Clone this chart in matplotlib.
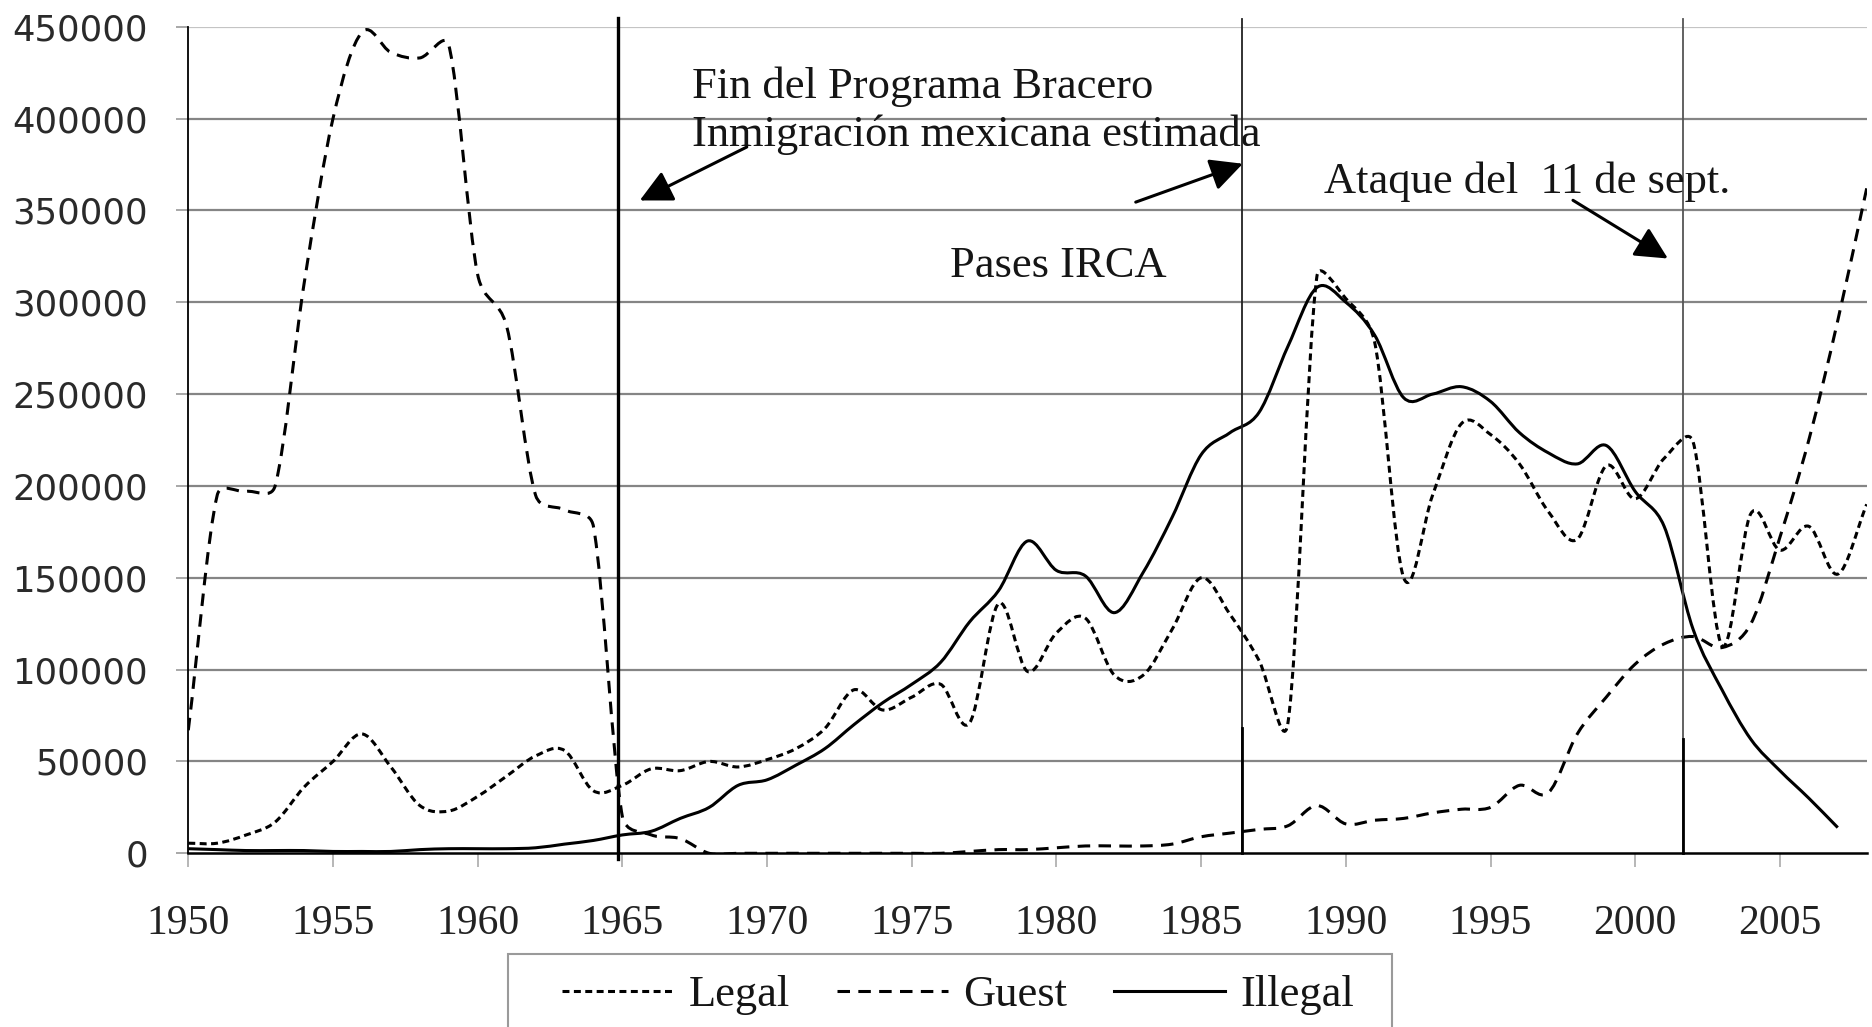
import numpy as np
import matplotlib
matplotlib.use("Agg")
import matplotlib.pyplot as plt
from matplotlib.path import Path
from matplotlib.patches import PathPatch, Rectangle
from matplotlib.lines import Line2D

plt.rcParams['lines.scale_dashes'] = False

# ---------------- data ----------------
years = list(range(1950, 2009))
legal = [5500, 5500, 10000, 17000, 36000, 50000, 65000, 47000, 26000, 23000,
         31000, 42000, 53000, 56000, 34000, 37000, 46000, 45000, 50000, 47000,
         51000, 57000, 68000, 89000, 78000, 85000, 92000, 71000, 136000, 99000,
         120000, 128000, 97000, 97000, 122000, 150000, 130000, 105000, 71000, 314000,
         302000, 278000, 150000, 195000, 234000, 228000, 212000, 186000, 171000, 211000,
         193000, 215000, 224000, 113000, 185000, 165000, 178000, 152000, 190000]
guest = [67000, 195000, 197000, 200000, 310000, 400000, 447000, 436000, 433000, 440000,
         315000, 287000, 195000, 187000, 178000, 20000, 10000, 8000, 0, 0,
         0, 0, 0, 0, 0, 0, 0, 1000, 2000, 2000,
         3000, 4000, 4000, 4000, 5000, 9000, 11000, 13000, 15000, 26000,
         16000, 18000, 19000, 22000, 24000, 25000, 37000, 33000, 65000, 85000,
         103000, 114000, 118000, 112000, 125000, 172000, 225000, 290000, 362000]
years_illegal = list(range(1950, 2008))
illegal = [2500, 2000, 1500, 1500, 1500, 1000, 1000, 1000, 2000, 2500,
           2500, 2500, 3000, 5000, 7000, 10000, 12000, 19000, 25000, 37000,
           40000, 48000, 57000, 70000, 82000, 92000, 104000, 126000, 143000, 170000,
           154000, 151000, 131000, 153000, 183000, 217000, 229000, 240000, 276000, 308000,
           300000, 282000, 248000, 250000, 254000, 246000, 229000, 218000, 212000, 222000,
           197000, 178000, 122000, 89000, 62000, 45000, 30000, 14000]

series_names = ["Legal", "Guest", "Illegal"]
y_ticks = list(range(0, 450001, 50000))
x_ticks = list(range(1950, 2006, 5))

event_years = [1964.85, 1986.4, 2001.65]
annotations = ["Fin del Programa Bracero", "Inmigración mexicana estimada",
               "Pases IRCA", "Ataque del  11 de sept."]


# ---------------- helpers ----------------
def smooth_path(ax, x, y):
    """Spreadsheet-style smoothed line: cubic Bezier segments whose control
    handles are limited relative to the segment length (in screen space)."""
    pts = np.column_stack([x, y]).astype(float)
    scr = ax.transData.transform(pts)
    n = len(pts)
    verts = [pts[0]]
    codes = [Path.MOVETO]
    for i in range(n - 1):
        i0 = i - 1 if i > 0 else i
        i3 = i + 2 if i + 2 < n else i + 1
        p0, p1, p2, p3 = pts[i0], pts[i], pts[i + 1], pts[i3]
        s0, s1, s2, s3 = scr[i0], scr[i], scr[i + 1], scr[i3]
        d12 = np.hypot(*(s2 - s1))
        d02 = np.hypot(*(s2 - s0))
        d13 = np.hypot(*(s3 - s1))
        f = 1 / 3 if i0 == i else 1 / 6
        g = 1 / 3 if i3 == i + 1 else 1 / 6
        if d02 > 0:
            f = min(f, d12 / (2 * d02))
        if d13 > 0:
            g = min(g, d12 / (2 * d13))
        c1 = p1 + f * (p2 - p0)
        c2 = p2 - g * (p3 - p1)
        verts += [c1, c2, p2]
        codes += [Path.CURVE4] * 3
    return Path(verts, codes)


W, H = 1872, 1027
fig = plt.figure(figsize=(W / 100, H / 100), dpi=100)
ax = fig.add_axes([188.3 / W, 1 - 853.3 / H, (1866.7 - 188.3) / W, (853.3 - 26.7) / H])

ax.set_xlim(1950, 2008)
ax.set_ylim(0, 450000)

# grid
for v in y_ticks[1:]:
    ax.axhline(v, color='#c4c4c4' if v == 450000 else '#858585', lw=1.6, zorder=1)

styles = {
    "Legal": dict(ls=(0, (5.0, 3.2)), lw=2.2),
    "Guest": dict(ls=(0, (9.0, 6.0)), lw=2.2),
    "Illegal": dict(ls='-', lw=2.2),
}
data = {"Legal": (years, legal), "Guest": (years, guest), "Illegal": (years_illegal, illegal)}
for name in series_names:
    xs, ys = data[name]
    st = styles[name]
    patch = PathPatch(smooth_path(ax, xs, ys), fill=False, edgecolor='black',
                      lw=st['lw'], linestyle=st['ls'], zorder=3, capstyle='butt')
    ax.add_patch(patch)

# vertical event lines
ax.plot([event_years[0]] * 2, [-3000, 455000], color='black', lw=2.4, clip_on=False, zorder=4)
ax.plot([event_years[1]] * 2, [0, 454000], color='#222222', lw=1.3, clip_on=False, zorder=4)
ax.plot([event_years[1]] * 2, [0, 68000], color='black', lw=2.0, clip_on=False, zorder=4)
ax.plot([event_years[2]] * 2, [0, 454000], color='#555555', lw=1.3, clip_on=False, zorder=4)
ax.plot([event_years[2]] * 2, [0, 62000], color='black', lw=2.0, clip_on=False, zorder=4)

# spines
for s in ['top', 'right']:
    ax.spines[s].set_visible(False)
ax.spines['left'].set_color('black')
ax.spines['left'].set_linewidth(1.3)
ax.spines['bottom'].set_color('black')
ax.spines['bottom'].set_linewidth(1.8)
ax.spines['left'].set_zorder(5)
ax.spines['bottom'].set_zorder(5)

ax.set_yticks(y_ticks)
ax.set_yticklabels([str(v) for v in y_ticks], fontfamily='DejaVu Sans', fontsize=25.5, color='#2a2a2a')
ax.set_xticks(x_ticks)
ax.set_xticklabels([str(v) for v in x_ticks], fontfamily='Liberation Serif', fontsize=30, color='#222222')
ax.tick_params(axis='y', length=9, width=1.2, color='#999999', pad=20)
ax.tick_params(axis='x', length=10, width=1.2, color='#aaaaaa', pad=27)

# annotations
tfont = dict(fontfamily='Liberation Serif', fontsize=32, color='#151515', va='center', ha='left')
ax.text(1967.39, 417500, annotations[0], **tfont, zorder=6)
ax.text(1967.39, 391200, annotations[1], **tfont, zorder=6)
ax.text(1976.33, 319500, annotations[2], **tfont, zorder=6)
ax.text(1989.24, 365800, annotations[3], **tfont, zorder=6)

arrow_kw = dict(arrowstyle='-|>,head_length=0.9,head_width=0.45', color='black', lw=2.2,
                shrinkA=0, shrinkB=0, mutation_scale=22)
ax.annotate('', xy=(1965.6, 355400), xytext=(1969.3, 384500), arrowprops=arrow_kw, zorder=7)
ax.annotate('', xy=(1986.44, 375400), xytext=(1982.74, 354500), arrowprops=arrow_kw, zorder=7)
ax.annotate('', xy=(2001.13, 323800), xytext=(1997.85, 355500), arrowprops=arrow_kw, zorder=7)

# legend
handles = [Line2D([], [], color='black', lw=styles[n]['lw'], ls=styles[n]['ls']) for n in series_names]
leg = fig.legend(handles, series_names, loc='center left', bbox_to_anchor=(562 / W, 1 - 995 / H),
                 ncol=3, frameon=False, borderpad=0, borderaxespad=0,
                 prop={'family': 'Liberation Serif', 'size': 32},
                 handlelength=2.5, handletextpad=0.35, columnspacing=1.05)
for t in leg.get_texts():
    t.set_color('#151515')
fig.patches.append(Rectangle((508 / W, -0.05), (1392 - 508) / W, 0.05 + 1 - 954 / H,
                             transform=fig.transFigure, fill=False, edgecolor='#9a9a9a', lw=1.5))

fig.savefig('out.png', dpi=100)
